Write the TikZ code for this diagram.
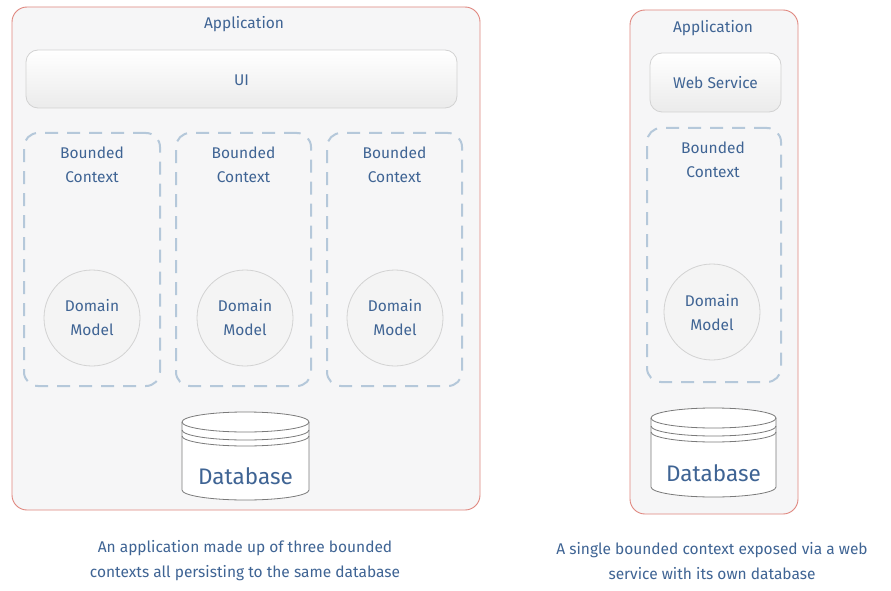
\documentclass[tikz,border=0pt]{standalone}
\usepackage{fontspec}
\setmainfont{Fira Sans}
\begin{document}
\begin{tikzpicture}[x=1pt,y=-1pt,
  txt/.style={text=textblue,font=\fontsize{15.5}{18}\selectfont,align=center,inner sep=0pt},
  appbox/.style={draw=appred,fill=appfill,line width=0.9pt,rounded corners=15pt,inner sep=0pt},
  svcbox/.style={draw=svcline,top color=white,bottom color=svcfill,line width=0.8pt,rounded corners=12pt,inner sep=0pt},
  bcbox/.style={draw=bcline,line width=2pt,dash pattern=on 13pt off 9pt,rounded corners=14pt,inner sep=0pt},
  dmcirc/.style={circle,draw=svcline,fill=dmfill,line width=0.8pt,minimum size=96pt,inner sep=0pt},
  dbline/.style={draw=dbgray,line width=0.8pt}
]
\definecolor{textblue}{HTML}{3F6494}
\definecolor{appred}{HTML}{E0877F}
\definecolor{appfill}{HTML}{F6F6F7}
\definecolor{svcline}{HTML}{D2D2D2}
\definecolor{svcfill}{HTML}{EBEBEB}
\definecolor{bcline}{HTML}{B5C8DA}
\definecolor{dmfill}{HTML}{F4F4F4}
\definecolor{dbgray}{HTML}{7A7A7A}
\useasboundingbox[fill=white] (0,0) rectangle (891,591);

% ---------- left application ----------
\node[appbox,minimum width=468pt,minimum height=503pt] (appL) at (246,258.5) {};
\node[txt] (appLt) at (244,24) {Application};
\node[svcbox,minimum width=431pt,minimum height=58pt] (ui) at (241.5,79) {};
\node[txt] (uit) at (241.5,80) {UI};

\foreach \n/\cx/\w in {1/92/136,2/243.5/135,3/394.5/135}{
  \node[bcbox,minimum width=\w pt,minimum height=253pt] (bc\n) at (\cx,259.5) {};
  \node[txt] (bc\n t) at (\cx,165) {Bounded\\[6pt]Context};
}
\foreach \n/\cx in {1/92,2/245,3/395}{
  \node[dmcirc] (dm\n) at (\cx,318) {};
  \node[txt] (dm\n t) at (\cx,318) {Domain\\[6pt]Model};
}

% database cylinder
\def\dbcyl#1#2#3#4{% left right top bottom
  \pgfmathsetmacro\cx{(#1+#2)/2}\pgfmathsetmacro\rx{(#2-#1)/2}
  \fill[white] (#1,#3+10) -- (#1,#4-10) arc[start angle=180,end angle=360,x radius=\rx,y radius=-10] -- (#2,#3+10) arc[start angle=0,end angle=180,x radius=\rx,y radius=-10] -- cycle;
  \draw[dbline] (#1,#3+10) -- (#1,#4-10) arc[start angle=180,end angle=360,x radius=\rx,y radius=-10] -- (#2,#3+10);
  \draw[dbline] (\cx,#3+10) ellipse[x radius=\rx,y radius=10];
  \draw[dbline] (#1,#3+18) arc[start angle=180,end angle=360,x radius=\rx,y radius=-10];
  \draw[dbline] (#1,#3+24) arc[start angle=180,end angle=360,x radius=\rx,y radius=-10];
}
\dbcyl{182}{309}{412}{500}
\node[txt,font=\fontsize{22.5}{26}\selectfont] (dbL) at (245.5,476) {Database};

\node[txt] (capL) at (245,561) {An application made up of three bounded\\[7pt]contexts all persisting to the same database};

% ---------- right application ----------
\node[appbox,minimum width=168pt,minimum height=504pt] (appR) at (714,262) {};
\node[txt] (appRt) at (713,28) {Application};
\node[svcbox,minimum width=131pt,minimum height=59pt] (ws) at (715.5,82.5) {};
\node[txt] (wst) at (715.5,83) {Web Service};
\node[bcbox,minimum width=134pt,minimum height=254pt] (bcR) at (714,255) {};
\node[txt] (bcRt) at (713,160) {Bounded\\[6pt]Context};
\node[dmcirc] (dmR) at (712,312) {};
\node[txt] (dmRt) at (712,313) {Domain\\[6pt]Model};
\dbcyl{651}{776}{408}{497}
\node[txt,font=\fontsize{22.5}{26}\selectfont] (dbR) at (713.5,473) {Database};

\node[txt] (capR) at (712,561) {A single bounded context exposed via a web\\[7pt]service with its own database};
\end{tikzpicture}
\end{document}
